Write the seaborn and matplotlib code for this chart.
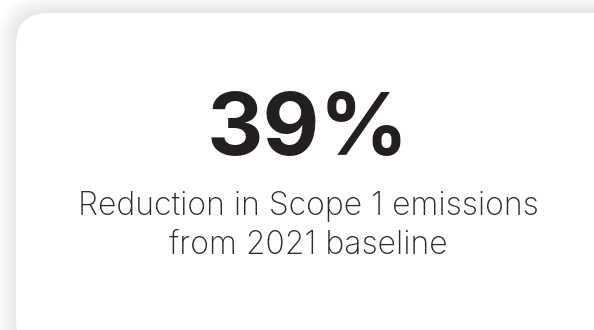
import matplotlib.pyplot as plt
import seaborn as sns
from matplotlib.patches import FancyBboxPatch

# KPI card content
kpi_value = [39]
kpi_unit = ["%"]
kpi_lines = ["Reduction in Scope 1 emissions", "from 2021 baseline"]

sns.set_theme(style="white")
plt.rcParams["font.family"] = ["Inter", "DejaVu Sans"]

W, H = 594, 330
fig = plt.figure(figsize=(W / 100, H / 100), dpi=100)
ax = fig.add_axes([0, 0, 1, 1])
ax.set_xlim(0, W)
ax.set_ylim(H, 0)
ax.axis("off")

# soft shadow around the card
card_x, card_y, card_w, card_h, rad = 16, 13, 610, 340, 32
for i in range(24, 0, -1):
    ax.add_patch(FancyBboxPatch(
        (card_x - i * 0.8, card_y - i * 0.8), card_w + 1.6 * i, card_h + 1.6 * i,
        boxstyle="round,pad=0,rounding_size=%.1f" % (rad + i * 0.8),
        facecolor="#000000", edgecolor="none", alpha=0.0032,
    ))
ax.add_patch(FancyBboxPatch(
    (card_x, card_y), card_w, card_h,
    boxstyle="round,pad=0,rounding_size=%d" % rad,
    facecolor="white", edgecolor="none",
))

ax.text(308, 155, "%d%s" % (kpi_value[0], kpi_unit[0]), ha="center", va="baseline",
        fontsize=63, fontweight="bold", color="#231f20")
ax.text(308, 215, kpi_lines[0], ha="center", va="baseline",
        fontsize=23, fontweight="light", color="#2b2b2b")
ax.text(308, 254, kpi_lines[1], ha="center", va="baseline",
        fontsize=23, fontweight="light", color="#2b2b2b")

fig.savefig("out.png", dpi=100)
